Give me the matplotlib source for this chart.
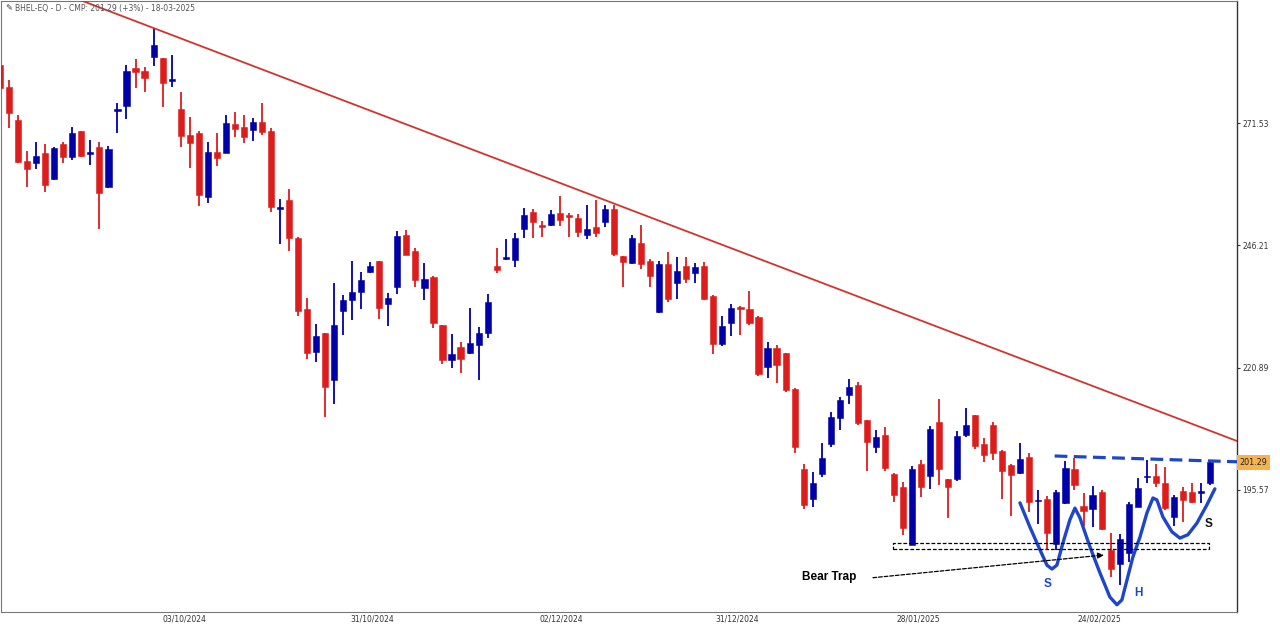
import matplotlib
matplotlib.use("Agg")
import matplotlib.pyplot as plt
from matplotlib.patches import Rectangle
import numpy as np

# ---------------- data (daily candles, BHEL-EQ) ----------------
opens = [283.5, 279.0, 272.2, 263.7, 263.3, 265.3, 260.0, 267.2, 264.5, 269.9,
         265.2, 266.6, 258.3, 274.0, 275.1, 282.9, 282.3, 285.2, 285.0, 280.3,
         274.4, 269.1, 269.5, 256.2, 265.5, 265.3, 271.3, 270.7, 270.1, 271.7,
         269.9, 253.8, 255.6, 247.7, 233.0, 224.1, 228.1, 218.3, 232.6, 234.9,
         236.6, 240.7, 243.0, 234.1, 237.6, 248.4, 245.0, 237.4, 239.7, 229.7,
         222.5, 225.2, 223.9, 225.6, 228.1, 241.9, 243.4, 243.2, 249.6, 253.1,
         250.1, 250.4, 252.9, 252.2, 251.9, 248.4, 250.0, 251.0, 253.7, 244.0,
         242.6, 246.7, 243.0, 232.4, 242.4, 238.4, 241.9, 240.5, 241.9, 235.7,
         225.8, 230.1, 233.1, 233.0, 231.4, 221.0, 225.0, 223.9, 216.5, 199.9,
         193.7, 198.9, 205.1, 210.5, 215.2, 217.3, 210.1, 204.5, 207.0, 198.9,
         196.2, 184.2, 201.0, 198.5, 209.6, 197.8, 197.8, 207.0, 211.1, 205.1,
         209.0, 203.6, 200.7, 199.1, 202.4, 193.2, 193.7, 184.4, 192.9, 199.9,
         192.3, 191.6, 195.2, 183.2, 180.3, 182.5, 192.0, 198.2, 198.5, 197.0,
         190.0, 195.4, 195.2, 195.0, 197.0]
highs = [284.6, 280.4, 273.2, 265.7, 267.6, 267.2, 266.6, 267.6, 270.7, 269.9,
         268.0, 267.6, 266.8, 275.7, 283.5, 284.8, 283.1, 291.2, 285.0, 285.6,
         278.0, 272.8, 269.9, 267.6, 269.5, 273.2, 273.8, 273.2, 272.6, 275.7,
         270.5, 255.8, 257.9, 247.9, 235.3, 229.9, 228.1, 238.4, 235.9, 243.0,
         240.7, 242.8, 243.0, 236.4, 249.2, 249.4, 245.7, 242.6, 239.9, 229.7,
         227.9, 226.2, 233.2, 229.3, 236.1, 245.7, 247.5, 248.8, 253.9, 253.7,
         251.3, 253.5, 256.4, 252.9, 252.7, 254.6, 255.6, 254.6, 254.6, 244.0,
         248.4, 250.4, 243.4, 243.0, 244.8, 243.8, 243.8, 242.6, 242.8, 235.9,
         231.6, 234.1, 233.7, 236.8, 231.6, 226.2, 225.6, 223.9, 216.7, 201.0,
         199.3, 205.3, 211.7, 214.8, 218.5, 217.9, 210.1, 208.0, 208.6, 199.1,
         197.2, 200.5, 201.8, 208.8, 214.4, 197.8, 207.8, 212.5, 211.1, 206.3,
         209.6, 203.9, 201.0, 205.3, 203.2, 195.6, 194.3, 195.6, 201.6, 202.2,
         195.0, 196.4, 195.6, 186.7, 186.5, 193.1, 198.1, 201.8, 201.0, 200.3,
         194.5, 196.2, 197.0, 197.0, 201.6]
lows = [276.3, 270.5, 263.3, 258.3, 262.0, 257.3, 259.7, 263.3, 263.9, 264.5,
        262.8, 249.6, 258.1, 269.5, 272.4, 278.8, 278.0, 283.3, 274.9, 279.0,
        266.6, 262.2, 254.4, 255.0, 262.6, 265.3, 268.6, 267.4, 267.8, 269.1,
        253.1, 246.5, 245.0, 231.6, 222.7, 222.1, 210.7, 213.4, 227.7, 230.8,
        233.0, 240.5, 231.0, 229.5, 236.1, 244.2, 237.6, 234.9, 229.1, 221.7,
        220.8, 219.8, 223.7, 218.3, 227.0, 240.5, 243.2, 241.7, 247.7, 247.7,
        247.9, 250.2, 250.2, 247.9, 247.9, 247.5, 247.9, 250.0, 244.0, 237.6,
        242.4, 241.3, 237.6, 232.2, 234.5, 235.1, 238.4, 238.4, 234.9, 223.7,
        225.4, 227.4, 227.7, 229.7, 219.2, 218.8, 217.7, 215.9, 203.2, 191.6,
        192.0, 198.3, 204.5, 208.0, 213.4, 209.0, 199.5, 203.2, 199.5, 193.1,
        186.3, 184.2, 194.1, 195.8, 196.6, 189.8, 197.4, 206.5, 204.1, 201.4,
        201.8, 193.7, 190.2, 198.9, 191.0, 188.5, 183.4, 183.2, 192.7, 195.6,
        188.1, 187.9, 187.3, 177.6, 175.9, 180.7, 192.0, 197.0, 196.2, 191.4,
        188.1, 188.9, 192.9, 192.9, 196.6]
closes = [278.8, 273.6, 263.5, 262.0, 264.7, 258.7, 266.4, 264.5, 269.5, 264.7,
          265.3, 257.0, 266.2, 274.4, 282.3, 282.1, 280.9, 287.7, 279.8, 280.4,
          268.8, 267.4, 256.6, 265.5, 264.3, 271.5, 270.3, 268.6, 271.7, 269.7,
          254.2, 253.9, 247.7, 232.6, 223.9, 227.4, 216.9, 229.7, 234.9, 236.6,
          239.0, 241.9, 233.2, 235.3, 248.1, 244.2, 239.0, 239.2, 230.1, 222.5,
          223.7, 222.7, 226.0, 228.1, 234.5, 241.1, 243.8, 247.7, 252.5, 251.0,
          250.0, 252.7, 251.5, 252.1, 249.0, 249.6, 248.8, 253.7, 244.4, 242.8,
          247.7, 242.4, 239.9, 242.4, 235.1, 240.9, 239.2, 241.7, 235.1, 225.8,
          229.5, 233.2, 233.0, 230.1, 219.6, 225.0, 221.4, 216.3, 204.5, 192.5,
          197.0, 202.2, 210.7, 214.2, 216.9, 209.4, 205.5, 206.5, 200.1, 194.5,
          187.7, 199.9, 196.2, 208.2, 199.9, 196.2, 206.7, 209.0, 204.7, 202.8,
          203.2, 199.5, 198.7, 202.0, 193.1, 193.3, 186.7, 195.2, 200.1, 196.6,
          191.2, 194.5, 187.5, 179.2, 185.4, 192.7, 196.0, 198.3, 197.0, 191.8,
          194.1, 193.5, 193.1, 195.2, 201.29]

date_ticks = [20.4, 41.2, 62.2, 81.6, 101.7, 121.8]
date_labels = ["03/10/2024", "31/10/2024", "02/12/2024", "31/12/2024", "28/01/2025", "24/02/2025"]
price_ticks = [271.53, 246.21, 220.89, 195.57]
last_price = 201.29

# annotation geometry (index, price)
trend_x = [8.86, 137.0]
trend_y = [297.0, 205.7]
neck_x = [116.8, 137.0]
neck_y = [202.6, 201.4]
box_x = [98.9, 133.9]
box_y = [183.4, 184.6]
pattern_x = [112.96, 114.06, 115.17, 115.95, 116.50, 117.05, 117.72, 118.49, 119.05,
             119.60, 120.71, 121.82, 122.92, 123.70, 124.25, 124.81, 125.47, 126.25,
             127.02, 127.69, 128.13, 128.79, 129.79, 130.68, 131.56, 132.56, 133.67, 134.55]
pattern_y = [192.9, 187.9, 183.2, 180.0, 179.2, 180.0, 184.6, 189.4, 191.8,
             189.8, 183.8, 178.4, 173.4, 171.8, 172.8, 176.9, 181.7, 185.8,
             190.8, 193.9, 193.5, 190.0, 186.9, 185.6, 186.3, 188.7, 192.5, 195.8]

RED = "#DD1C1C"
BLUE = "#0000A8"
PBLUE = "#1E46C8"

fig = plt.figure(figsize=(12.8, 6.27), dpi=100)
ax = fig.add_axes([1 / 1280, 15 / 627, 1236 / 1280, 611 / 627])
ax.set_xlim(0.1, 137.0)
ax.set_ylim(170.3, 296.8)

o = np.array(opens); h = np.array(highs); l = np.array(lows); c = np.array(closes)
x = np.arange(len(o))
up = c >= o
cols = np.where(up, BLUE, RED)
ax.vlines(x, l, h, colors=cols, linewidth=1.3, zorder=2)
bottoms = np.minimum(o, c)
heights = np.maximum(np.abs(c - o), 0.35)
ax.bar(x, heights, bottom=bottoms, width=0.68, color=cols, edgecolor=cols, linewidth=0.4, zorder=3)

# trend line
ax.plot(trend_x, trend_y, color="#D0342C", linewidth=1.3, zorder=4)
# neckline
ax.plot(neck_x, neck_y, color=PBLUE, linewidth=2.3, linestyle=(0, (4, 2)), zorder=4)
# pattern curve
ax.plot(pattern_x, pattern_y, color=PBLUE, linewidth=2.4, zorder=5, solid_joinstyle="round",
        solid_capstyle="round")
# bear trap box
ax.add_patch(Rectangle((box_x[0], box_y[0]), box_x[1] - box_x[0], box_y[1] - box_y[0],
                       fill=False, edgecolor="black", linewidth=0.9, linestyle=(0, (3, 1.5)), zorder=6))
ax.annotate("", xy=(122.26, 182.1), xytext=(96.68, 177.4),
            arrowprops=dict(arrowstyle="-|>", color="black", lw=0.9, linestyle=(0, (3, 1.5)),
                            mutation_scale=9, shrinkA=0, shrinkB=0), zorder=6)
ax.text(91.8, 177.6, "Bear Trap", fontsize=8.5, fontweight="bold", ha="center", va="center",
        family="Liberation Sans", color="black")
ax.text(116.05, 176.2, "S", fontsize=8.5, fontweight="bold", color=PBLUE, ha="center", va="center",
        family="Liberation Sans")
ax.text(126.1, 174.3, "H", fontsize=8.5, fontweight="bold", color=PBLUE, ha="center", va="center",
        family="Liberation Sans")
ax.text(133.8, 188.5, "S", fontsize=8.5, fontweight="bold", color="#111111", ha="center", va="center",
        family="Liberation Sans")

# axes styling
for s in ["top", "left", "bottom"]:
    ax.spines[s].set_color("#777777")
    ax.spines[s].set_linewidth(0.8)
ax.spines["right"].set_color("#333333")
ax.spines["right"].set_linewidth(1.0)
ax.yaxis.tick_right()
ax.set_yticks(price_ticks)
ax.set_yticklabels([f"{v:.2f}" for v in price_ticks])
ax.tick_params(axis="y", labelsize=5.5, length=2, pad=2, colors="#333333")
ax.set_xticks(date_ticks)
ax.set_xticklabels(date_labels)
ax.tick_params(axis="x", labelsize=5.5, length=0, pad=2, colors="#333333")

# last price box
ax.text(1.002, (last_price - 170.3) / (296.8 - 170.3), f"{last_price:.2f}", transform=ax.transAxes,
        fontsize=5.8, ha="left", va="center", color="#222222",
        bbox=dict(boxstyle="square,pad=0.35", facecolor="#F6B24E", edgecolor="none"))

fig.text(15 / 1280, 1 - 8 / 627, "BHEL-EQ - D - CMP: 201.29 (+3%) - 18-03-2025",
         fontsize=5.5, color="#555555", ha="left", va="center")
fig.text(5 / 1280, 1 - 8 / 627, "\u270E", fontsize=6, color="#333333", ha="left", va="center")

fig.savefig("out.png", dpi=100, facecolor="white")
